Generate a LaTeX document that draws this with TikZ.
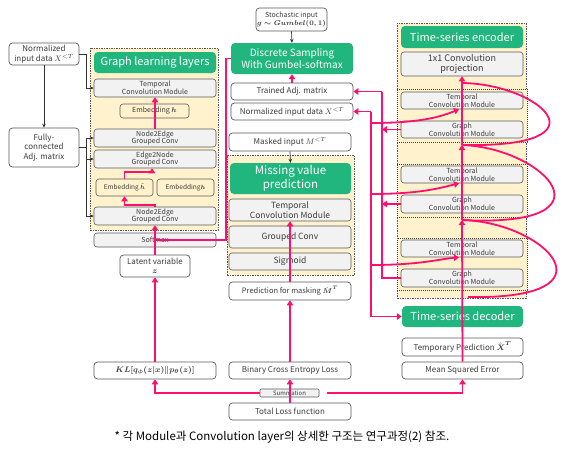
\documentclass[tikz,border=0pt]{standalone}
\usepackage{amsmath}
\usepackage{fontspec}
\setmainfont{Noto Sans CJK KR}
\usetikzlibrary{arrows.meta,calc}
\definecolor{gr}{RGB}{34,182,127}
\definecolor{pk}{RGB}{255,16,110}
\definecolor{ybg}{RGB}{255,242,204}
\definecolor{bx}{RGB}{242,242,242}
\definecolor{ed}{RGB}{90,90,90}
\definecolor{tx}{RGB}{60,60,60}
\begin{document}
\begin{tikzpicture}[x=1pt,y=-1pt,
  sz/.style n args={2}{minimum width=#1pt,minimum height=#2pt},
  gbox/.style={draw=ed,fill=bx,rounded corners=3pt,line width=0.6pt,inner sep=0pt,align=center,text=tx,font=\fontsize{7}{7.6}\selectfont},
  wbox/.style={draw=ed,fill=white,rounded corners=3.5pt,line width=0.7pt,inner sep=0pt,align=center,text=tx,font=\fontsize{8}{9.6}\selectfont},
  ebox/.style={draw=ed,fill=ybg,rounded corners=3pt,line width=0.6pt,inner sep=0pt,align=center,text=tx,font=\fontsize{6.5}{8}\selectfont},
  green/.style={fill=gr,rounded corners=4pt,text=white,inner sep=0pt,align=center,font=\fontsize{11}{13}\selectfont},
  cont/.style={draw=ed,dash pattern=on 1.5pt off 1pt,fill=ybg,line width=0.5pt,inner sep=0pt},
  blk/.style={draw=black!75,dash pattern=on 1.2pt off 0.8pt,line width=0.9pt,fill=ybg,inner sep=0pt},
  pl/.style={draw=pk,line width=1.8pt},
  pa/.style={draw=pk,line width=1.8pt,-{Triangle[length=5pt,width=6.5pt]}},
  bl/.style={draw=black!80,line width=0.7pt},
  ba/.style={draw=black!80,line width=0.7pt,-{Stealth[length=4pt,width=3.5pt]}}]
\useasboundingbox (0,0) rectangle (568,453);
\fill[white] (0,0) rectangle (568,453);

% containers
\node[cont,sz={128}{182}] (glbox) at (154,139) {};
\node[cont,sz={127}{120}] (mvbox) at (290.5,215) {};
\node[cont,sz={129}{275}] (encbox) at (461.5,160.5) {};
\node[blk,sz={130}{53}] (blk1) at (462,115.5) {};
\node[blk,sz={130}{53}] (blk2) at (462,190.5) {};
\node[blk,sz={130}{52}] (blk3) at (462,264) {};

% left column
\node[wbox,sz={70}{22}] (nin) at (44,54) {Normalized\\input data $X^{<T}$};
\node[wbox,sz={70}{39}] (fc) at (44,147.5) {Fully-\\connected\\Adj. matrix};
\node[green,sz={122}{21}] (gltitle) at (155,62.5) {Graph learning layers};
\node[gbox,sz={122}{18}] (gtcm) at (155,88) {Temporal\\Convolution Module};
\node[ebox,sz={69}{14},font=\fontsize{7}{8}\selectfont] (embh) at (154.5,111) {Embedding $\boldsymbol{h}$};
\node[gbox,sz={122}{18}] (n2e1) at (155,138) {Node2Edge\\Grouped Conv};
\node[gbox,sz={122}{18}] (e2n) at (155,159) {Edge2Node\\Grouped Conv};
\node[ebox,sz={57}{17}] (embht) at (124.5,187.5) {Embedding $\tilde{\boldsymbol{h}}$};
\node[ebox,sz={57}{17}] (embh2) at (185.5,187.5) {Embedding$\boldsymbol{h}$};
\node[gbox,sz={122}{18}] (n2e2) at (155,216) {Node2Edge\\Grouped Conv};
\node[gbox,sz={122}{14}] (softmax) at (155,240) {Softmax};
\node[wbox,sz={70}{22}] (latent) at (155,266) {Latent variable\\$\boldsymbol{z}$};
\node[wbox,sz={122}{17}] (kl) at (155,370.5) {$\boldsymbol{KL[q_{\phi}(z\vert x)\Vert p_{\theta}(z)]}$};

% middle column
\node[wbox,sz={71}{23},font=\fontsize{7}{8.5}\selectfont] (stoch) at (291.5,19.5) {Stochastic input\\$\boldsymbol{g\sim Gumbel(0,1)}$};
\node[green,sz={122}{31},font=\fontsize{10}{12}\selectfont] (ds) at (292,58.5) {Discrete Sampling\\With Gumbel-softmax};
\node[wbox,sz={122}{17}] (tadj) at (292,91.5) {Trained Adj. matrix};
\node[wbox,sz={122}{17}] (nin2) at (292,111.5) {Normalized input data $X^{<T}$};
\node[wbox,sz={122}{18}] (masked) at (290,142) {Masked input $M^{<T}$};
\node[green,sz={121}{31},font=\fontsize{11.5}{14}\selectfont] (mvtitle) at (290.5,178.5) {Missing value\\prediction};
\node[gbox,sz={122}{22},font=\fontsize{8.5}{10}\selectfont] (mtcm) at (290,210) {Temporal\\Convolution Module};
\node[gbox,sz={122}{22},font=\fontsize{8.5}{10}\selectfont] (gconv) at (290,237) {Grouped Conv};
\node[gbox,sz={122}{17},font=\fontsize{8.5}{10}\selectfont] (sigm) at (290,261.5) {Sigmoid};
\node[wbox,sz={122}{18},font=\fontsize{7.5}{9}\selectfont] (pred) at (290,291) {Prediction for masking $\hat{\boldsymbol{M}}^{\boldsymbol{T}}$};
\node[wbox,sz={122}{17}] (bce) at (290,370.5) {Binary Cross Entropy Loss};
\node[gbox,sz={59}{8},rounded corners=1pt,font=\fontsize{6}{6}\selectfont] (summ) at (289.5,393) {Summation};
\node[wbox,sz={122}{17}] (total) at (290,411.5) {Total Loss function};

% right column
\node[green,sz={122}{22}] (enctitle) at (462,37) {Time-series encoder};
\node[gbox,sz={122}{24},font=\fontsize{9}{10.5}\selectfont] (proj) at (462,64) {1x1 Convolution\\projection};
\node[gbox,sz={122}{17}] (t1) at (462,100.5) {Temporal\\Convolution Module};
\node[gbox,sz={122}{17}] (g1) at (462,129.5) {Graph\\Convolution Module};
\node[gbox,sz={122}{17}] (t2) at (462,174.5) {Temporal\\Convolution Module};
\node[gbox,sz={122}{18}] (g2) at (462,204) {Graph\\Convolution Module};
\node[gbox,sz={122}{17}] (t3) at (462,248.5) {Temporal\\Convolution Module};
\node[gbox,sz={122}{18}] (g3) at (462,278) {Graph\\Convolution Module};
\node[green,sz={121}{21}] (dec) at (462.5,316.5) {Time-series decoder};
\node[wbox,sz={121}{18}] (tpred) at (462.5,347) {Temporary Prediction $\hat{\boldsymbol{X}}^{\boldsymbol{T}}$};
\node[wbox,sz={121}{17}] (mse) at (462.5,370.5) {Mean Squared Error};

\node[font=\fontsize{11.5}{13}\selectfont,text=black] (note) at (282,437) {* 각 Module과 Convolution layer의 상세한 구조는 연구과정(2) 참조.};

% coordinates
\coordinate (bn1) at (86,54);
\coordinate (bn2) at (86,88);
\coordinate (jfc) at (86,147.5);
\coordinate (pd1) at (226,58.5);
\coordinate (pd2) at (226,240);
\coordinate (jp) at (155,240);
\coordinate (c0) at (462,83);
\coordinate (a1) at (462,145);
\coordinate (a2) at (462,220);
\coordinate (c3) at (468,297);
\coordinate (la0) at (382,91.5);
\coordinate (la1) at (382,129.5);
\coordinate (la2) at (382,204);
\coordinate (la3) at (382,278);
\coordinate (lb0) at (371,111.5);
\coordinate (lb1) at (371,123);
\coordinate (lb2) at (371,194);
\coordinate (lb3) at (371,265);
\coordinate (lb4) at (371,316.5);

% black connectors
\draw[ba] (nin.south) -- (fc.north);
\draw[bl] (nin.east) -- (bn1) -- (bn2);
\draw[ba] (bn2) -- (gtcm.west);
\draw[bl] (fc.east) -- (jfc);
\draw[ba] (jfc) |- (n2e1.west);
\draw[ba] (jfc) |- (e2n.west);
\draw[ba] (jfc) |- (n2e2.west);
\draw[ba] (stoch.south) -- (ds.north);
\draw[ba] (masked.south) -- (mvtitle.north);

% pink connectors: graph learning
\draw[pa] (kl.north) -- (latent.south);
\draw[pa] (latent.north) -- (n2e2.south);
\draw[pl] (ds.west) -- (pd1) -- (pd2) -- (jp);
\draw[pa] (n2e2.north) -- ++(0,-2) -| (embht.south);
\draw[pa] (embht.north) -- ++(0,-7) -| ([xshift=-3pt]e2n.south);
\draw[pa] (n2e1.north) -- (gtcm.south);

% middle
\draw[pa] (tadj.north) -- (ds.south);
\draw[pa] (pred.north) -- (mtcm.south);
\draw[pa] (bce.north) -- (pred.south);
\draw[pa] (total.north) -- (bce.south);
\draw[pa] (summ.west) -| (kl.south);
\draw[pa] ([xshift=8pt]summ.east) -| (mse.south);

% encoder spine
\draw[pa] (mse.north) -- (a2);
\draw[pa] (a2) -- (a1);
\draw[pa] (a1) -- (proj.south);
\draw[pl] (c0) .. controls (540,84) and (612,148) .. (a1);
\draw[pl] (a1) .. controls (545,148) and (620,228) .. (a2);
\draw[pl] (a2) .. controls (545,222) and (622,300) .. (c3);

% line A
\draw[pl] (g3.west) -- (la3) -- (la0);
\draw[pa] (la0) -- (tadj.east);
\draw[pa] (g1.west) -- (la1);
\draw[pa] (g2.west) -- (la2);

% line B
\draw[pl] (lb0) -- (lb4);
\draw[pa] (lb0) -- (nin2.east);
\draw[pa] (lb4) -- (dec.west);
\draw[pa] (lb1) .. controls (420,123) and (440,117) .. ([xshift=-3pt]t1.south);
\draw[pa] (lb2) .. controls (420,194) and (440,188) .. ([xshift=-3pt]t2.south);
\draw[pa] (lb3) .. controls (420,265) and (440,259) .. ([xshift=-3pt]t3.south);
\end{tikzpicture}
\end{document}
